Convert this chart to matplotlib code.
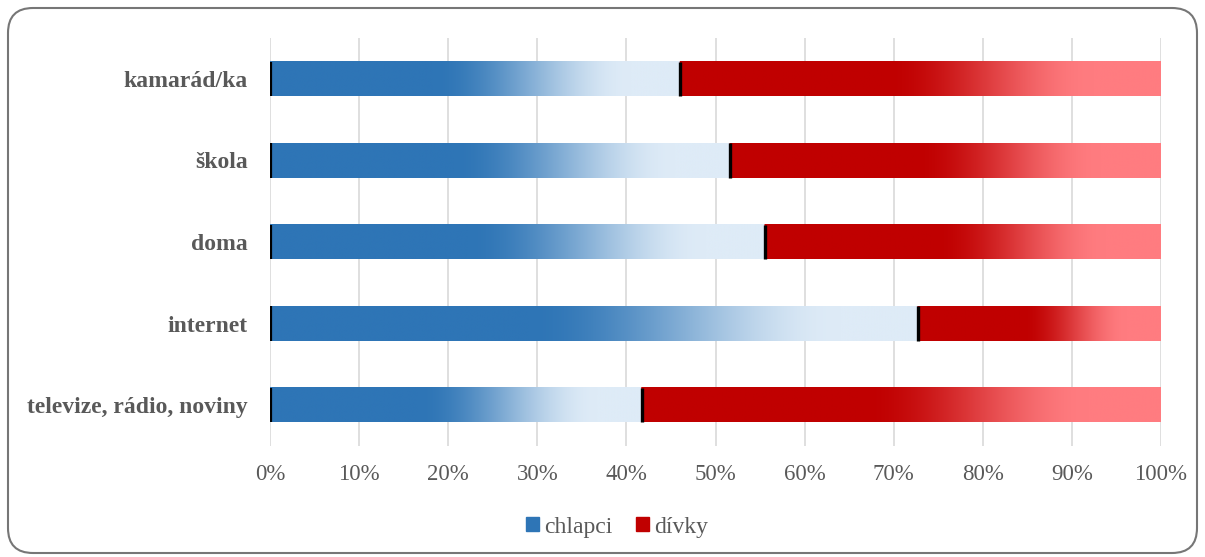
import numpy as np
import matplotlib
matplotlib.use('Agg')
import matplotlib.pyplot as plt
import matplotlib.patches as mpatches
import matplotlib.ticker as mticker
from matplotlib.transforms import IdentityTransform
from matplotlib.colors import to_rgb

plt.rcParams['font.family'] = ['Liberation Serif', 'DejaVu Serif']

# data (%)
categories = ['kamarád/ka', 'škola', 'doma', 'internet', 'televize, rádio, noviny']
chlapci = [46.0, 51.6, 55.5, 72.7, 41.7]
divky = [54.0, 48.4, 44.5, 27.3, 58.3]
series = ['chlapci', 'dívky']

blue_dark, blue_light = to_rgb('#2E75B6'), to_rgb('#DEEBF7')
red_dark, red_light = to_rgb('#C00000'), to_rgb('#FF7C80')
text_col = '#595959'
bar_h = 0.42


def grad(t, c1, c2, a, b):
    # solid, then fade, then light
    s = np.clip((t - a) / (b - a), 0, 1)
    s = s * s * (3 - 2 * s)
    s = s[:, None]
    return np.array(c1) * (1 - s) + np.array(c2) * s


fig = plt.figure(figsize=(12.05, 5.57), dpi=100)
ax = fig.add_axes([0.2241, 0.1993, 0.7394, 0.7325])

N = 1200
xs = np.linspace(0, 100, N)
for i, cat in enumerate(categories):
    c = chlapci[i]
    d = divky[i]
    img = np.ones((1, N, 3))
    m1 = xs <= c
    img[0, m1] = grad(xs[m1] / c, blue_dark, blue_light, 0.40, 0.88)
    m2 = ~m1
    img[0, m2] = grad((xs[m2] - c) / d, red_dark, red_light, 0.43, 0.86)
    ax.imshow(img, extent=(0, 100, i + bar_h / 2, i - bar_h / 2),
              aspect='auto', interpolation='bilinear', zorder=2)
    ax.vlines([0.15, c], i - bar_h / 2, i + bar_h / 2, colors='black',
              lw=[1.6, 2.4], zorder=3)

ax.set_xlim(0, 100)
ax.set_ylim(len(categories) - 0.5, -0.5)
ax.set_yticks(range(len(categories)))
ax.set_yticklabels(categories, fontweight='bold', fontsize=17, color=text_col)
ax.xaxis.set_major_locator(mticker.MultipleLocator(10))
ax.xaxis.set_major_formatter(mticker.FuncFormatter(lambda v, p: '%d%%' % v))
ax.tick_params(axis='x', length=0, pad=13, labelsize=16.5, labelcolor=text_col)
ax.tick_params(axis='y', length=0, pad=16)
ax.grid(axis='x', color='#D9D9D9', lw=1.2, zorder=0)
ax.set_axisbelow(True)
for s in ax.spines.values():
    s.set_visible(False)

handles = [mpatches.Patch(color=blue_dark, label=series[0]),
           mpatches.Patch(color=red_dark, label=series[1])]
fig.legend(handles=handles, loc='center', bbox_to_anchor=(617 / 1205, 1 - 527 / 557),
           ncol=2, frameon=False, fontsize=17, labelcolor=text_col,
           handlelength=0.55, handleheight=0.55, handletextpad=0.2, columnspacing=1.0)

border = mpatches.FancyBboxPatch((8, 4), 1189, 545,
                                 boxstyle='round,pad=0,rounding_size=25',
                                 transform=IdentityTransform(),
                                 facecolor='none', edgecolor='#767676', lw=1.5)
fig.add_artist(border)

plt.savefig('out.png', dpi=100)
